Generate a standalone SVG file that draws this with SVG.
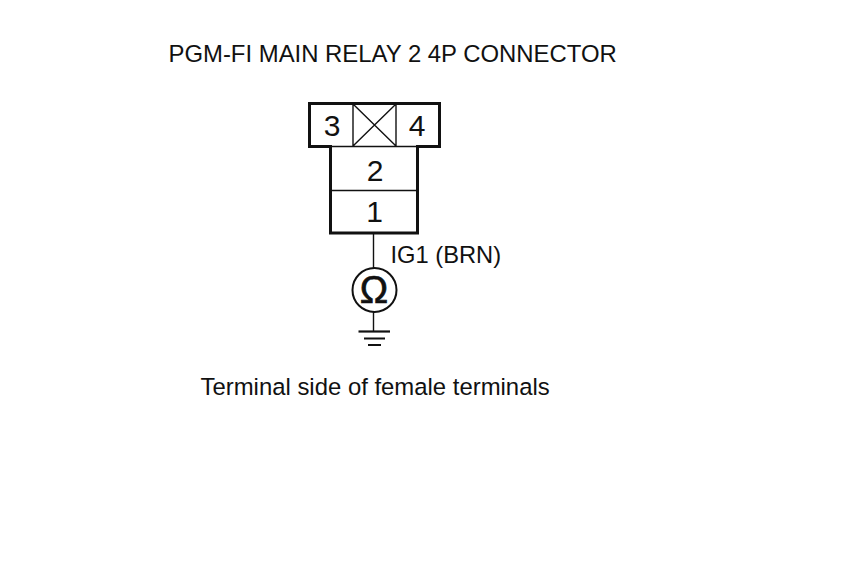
<svg xmlns="http://www.w3.org/2000/svg" width="860" height="577" viewBox="0 0 860 577">
<style>
text{font-family:"Liberation Sans",Arial,sans-serif;fill:#111}
.t{font-size:23.900px}
.n{font-size:30px;text-anchor:middle}
.h{fill:none;stroke:#111;stroke-width:3}
.l{fill:none;stroke:#111;stroke-width:1.400}
</style>
<rect width="860" height="577" fill="#fff"/>
<text class="t" x="168.500" y="62">PGM-FI MAIN RELAY 2 4P CONNECTOR</text>
<g id="connector">
<path class="h" d="M330.500 146.500H309.500V103.500H439.500V146.500H417.500V233H330.500Z"/>
<path class="l" d="M330.500 146.500H417.500M330.500 190.500H417.500M353 104V146M396 104V146M353 104L396 146M396 104L353 146"/>
<text class="n" x="332" y="136">3</text>
<text class="n" x="417" y="136">4</text>
<text class="n" x="375" y="181">2</text>
<text class="n" x="374.500" y="222">1</text>
</g>
<g id="connectors">
<path class="l" d="M373.500 234V268M373.500 312V331"/>
</g>
<text id="wire-label" class="t" style="font-size:23.700px" x="390.500" y="263">IG1 (BRN)</text>
<g id="ohmmeter">
<circle cx="374.500" cy="290" r="22" fill="none" stroke="#111" stroke-width="2"/>
<text x="374" y="303" font-size="38" text-anchor="middle" stroke="#111" stroke-width="0.700">Ω</text>
</g>
<g id="ground">
<path d="M358.500 331.500H390" fill="none" stroke="#111" stroke-width="2.200"/>
<path d="M364 338.500H385M368 345H381" fill="none" stroke="#111" stroke-width="2"/>
</g>
<text id="caption" class="t" x="200.500" y="395">Terminal side of female terminals</text>
</svg>
